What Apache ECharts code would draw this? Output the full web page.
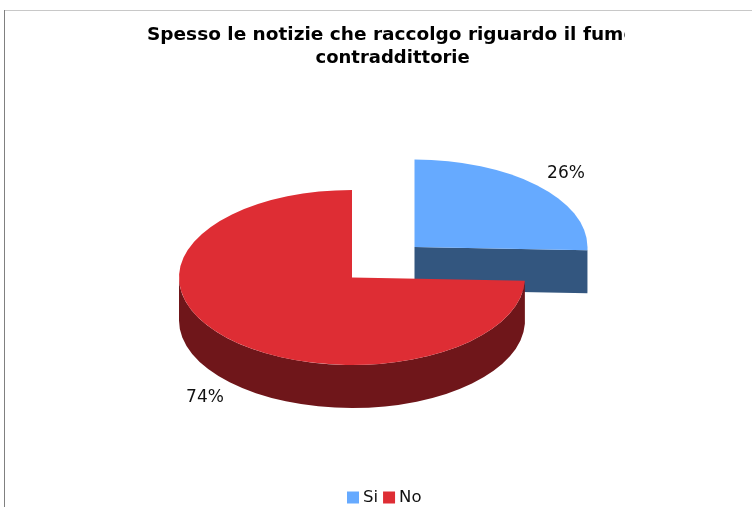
<!DOCTYPE html>
<html><head><meta charset="utf-8">
<style>html,body{margin:0;padding:0;background:#fff}#c{width:752px;height:507px}</style>
<script src="https://cdn.jsdelivr.net/npm/echarts@6/dist/echarts.min.js"></script>
</head><body><div id="c"></div>
<script>
const categories = ['Si', 'No'];
const values = [25.6, 74.4];
const titleLines = ['Spesso le notizie che raccolgo riguardo il fumo', 'contraddittorie'];

const colors = ['#66aaff', '#de2d34'];
const sideColors = ['#33567f', '#6f161a'];
const centers = [[414.5, 247], [352, 277.5]];
const labelAnchors = [[566, 173.5], [205, 397.5]];
const RX = 173, RY = 87.5, DEPTH = 43;
const total = values.reduce((a, b) => a + b, 0);

function pt(c, t, dy) {
  return [c[0] + RX * Math.sin(t), c[1] - RY * Math.cos(t) + (dy || 0)];
}
function arc(c, a0, a1, dy, cw) {
  const e = pt(c, a1, dy);
  const large = Math.abs(a1 - a0) > Math.PI ? 1 : 0;
  return `A${RX} ${RY} 0 ${large} ${cw ? 1 : 0} ${e[0]} ${e[1]}`;
}
function sliceAngles(i) {
  let before = 0;
  for (let k = 0; k < i; k++) before += values[k];
  return [before / total * 2 * Math.PI, (before + values[i]) / total * 2 * Math.PI];
}
function makeRender(i) {
  return function () {
    const [a0, a1] = sliceAngles(i);
    const c = centers[i];
    const children = [];
    const w0 = Math.max(a0, Math.PI / 2), w1 = Math.min(a1, Math.PI * 1.5);
    if (w1 > w0) {
      const s = pt(c, w0), eb = pt(c, w1, DEPTH);
      children.push({
        type: 'path', silent: true,
        shape: { pathData: `M${s[0]} ${s[1]} ${arc(c, w0, w1, 0, true)} L${eb[0]} ${eb[1]} ${arc(c, w1, w0, DEPTH, false)} Z` },
        style: { fill: sideColors[i] }
      });
    }
    if (a1 < Math.PI) {
      const e = pt(c, a1), eb = pt(c, a1, DEPTH);
      children.push({
        type: 'polygon', silent: true,
        shape: { points: [c, e, eb, [c[0], c[1] + DEPTH]] },
        style: { fill: sideColors[i] }
      });
    }
    const s = pt(c, a0), e = pt(c, a1);
    children.push({
      type: 'path', silent: true,
      shape: { pathData: `M${c[0]} ${c[1]} L${s[0]} ${s[1]} ${arc(c, a0, a1, 0, true)} Z` },
      style: { fill: colors[i] }
    });
    children.push({
      type: 'text', silent: true,
      style: {
        x: labelAnchors[i][0], y: labelAnchors[i][1],
        text: Math.round(values[i] / total * 100) + '%',
        fill: '#111', font: '17px "DejaVu Sans"', align: 'center', verticalAlign: 'middle'
      }
    });
    return { type: 'group', children };
  };
}

const chart = echarts.init(document.getElementById('c'), null, { renderer: 'canvas' });
chart.setOption({
  animation: false,
  backgroundColor: '#fff',
  title: [
    { text: titleLines[0], left: 147, top: 23, padding: 0,
      textStyle: { fontFamily: 'DejaVu Sans', fontWeight: 'bold', fontSize: 18.5, lineHeight: 24, color: '#000' } },
    { text: titleLines[1], left: 315.5, top: 46, padding: 0,
      textStyle: { fontFamily: 'DejaVu Sans', fontWeight: 'bold', fontSize: 18, lineHeight: 24, color: '#000' } }
  ],
  legend: {
    data: categories, left: 347, top: 489, padding: 0,
    itemWidth: 12, itemHeight: 12, itemGap: 5,
    textStyle: { fontFamily: 'DejaVu Sans', fontSize: 16.5, color: '#111', padding: [0, 0, 0, -1] },
    icon: 'rect'
  },
  series: categories.map((name, i) => ({
    type: 'custom', name, coordinateSystem: 'none',
    data: [values[i]], renderItem: makeRender(i),
    itemStyle: { color: colors[i] }, silent: true
  })),
  graphic: [
    { type: 'rect', z: 100, silent: true, shape: { x: 625, y: 12, width: 30, height: 36 }, style: { fill: '#fff' } },
    { type: 'line', z: 101, silent: true, shape: { x1: 4, y1: 10.5, x2: 752, y2: 10.5 }, style: { stroke: '#c8c8c8', lineWidth: 1 } },
    { type: 'line', z: 101, silent: true, shape: { x1: 4.5, y1: 10, x2: 4.5, y2: 507 }, style: { stroke: '#808080', lineWidth: 1 } }
  ]
});
</script></body></html>
